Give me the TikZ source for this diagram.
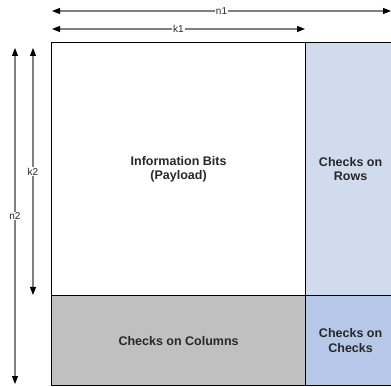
\documentclass[tikz,border=0pt]{standalone}
\usepackage{fontspec}
\setmainfont{Liberation Sans}
\usetikzlibrary{arrows.meta}
\definecolor{rowblue}{RGB}{208,220,238}
\definecolor{ccblue}{RGB}{181,200,231}
\definecolor{colgrey}{RGB}{192,192,192}
\definecolor{linegrey}{RGB}{128,128,128}
\definecolor{txt}{RGB}{40,40,40}
\tikzset{
  blk/.style={draw=black, line width=1.2pt, inner sep=0pt, anchor=north west,
    font=\bfseries\fontsize{12.5}{14.5}\selectfont, text=txt, align=center},
  dim/.style={draw=linegrey, line width=1.3pt,
    {Triangle[length=8pt,width=6pt,fill=black,color=black]}-{Triangle[length=8pt,width=6pt,fill=black,color=black]}},
  dimlbl/.style={fill=white, inner sep=1pt, font=\fontsize{10}{12}\selectfont, text=txt},
}
\begin{document}
\begin{tikzpicture}[x=1pt,y=-1pt]
\useasboundingbox (0,0) rectangle (391,387);
\clip (0,0) rectangle (391,387);
% blocks
\node[blk, fill=white, minimum width=254pt, minimum height=253pt] (info) at (51,42) {Information Bits\\(Payload)};
\node[blk, fill=rowblue, minimum width=90pt, minimum height=253pt] (rows) at (305,42) {Checks on\\Rows};
\node[blk, fill=colgrey, minimum width=254pt, minimum height=90pt] (cols) at (51,295) {Checks on Columns};
\node[blk, fill=ccblue, minimum width=90pt, minimum height=90pt] (cc) at (305,295) {Checks on\\Checks};
% dimension ends
\coordinate (n1a) at (52,11);
\coordinate (n1b) at (391,11);
\coordinate (k1a) at (52,29);
\coordinate (k1b) at (305,29);
\coordinate (k2a) at (33,48);
\coordinate (k2b) at (33,295);
\coordinate (n2a) at (15,48);
\coordinate (n2b) at (15,384);
\draw[dim] (n1a) -- node[dimlbl, pos=0.5] {n1} (n1b);
\draw[dim] (k1a) -- node[dimlbl, pos=0.5] {k1} (k1b);
\draw[dim] (k2a) -- node[dimlbl, pos=0.5] {k2} (k2b);
\draw[dim] (n2a) -- node[dimlbl, pos=0.5] {n2} (n2b);
\end{tikzpicture}
\end{document}
